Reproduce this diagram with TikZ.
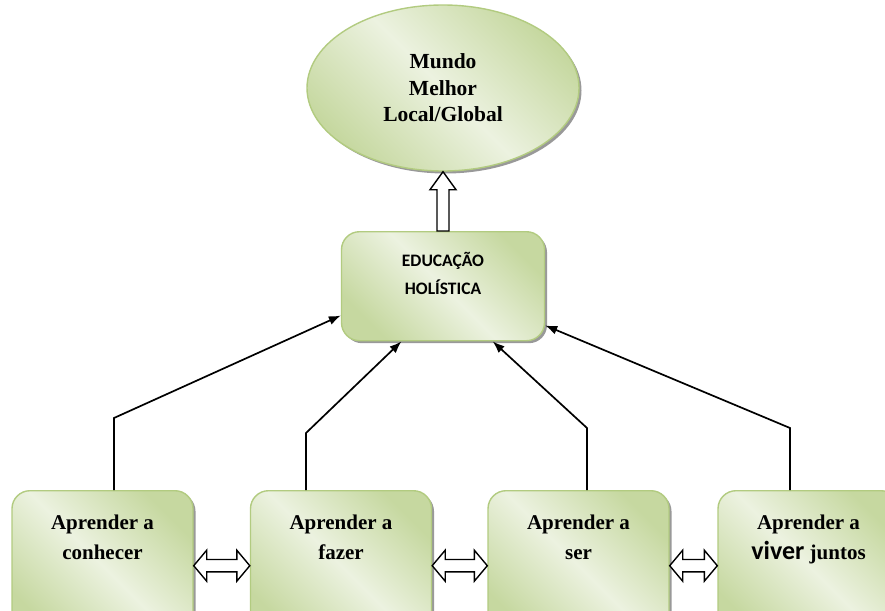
\documentclass[tikz,border=0pt]{standalone}
\usepackage{fontspec}
\setmainfont{Liberation Serif}
\newfontfamily\calibri{Carlito}
\usetikzlibrary{arrows.meta,calc,shapes.geometric,shadows}

\definecolor{leafdark}{RGB}{198,216,160}
\definecolor{leaflight}{RGB}{236,242,224}
\definecolor{leafline}{RGB}{178,203,128}

\newcommand{\twoway}[2]{%
    \draw[hollow] (#1.east) -- ($(#1.east)+(13,-15.5)$) -- ($(#1.east)+(13,-6.2)$)
        -- ($(#2.west)+(-13,-6.2)$) -- ($(#2.west)+(-13,-15.5)$) -- (#2.west)
        -- ($(#2.west)+(-13,15.5)$) -- ($(#2.west)+(-13,6.2)$)
        -- ($(#1.east)+(13,6.2)$) -- ($(#1.east)+(13,15.5)$) -- cycle;}

\begin{document}
\begin{tikzpicture}[x=1pt, y=-1pt,
    leaf/.style={draw=leafline, line width=1.4pt, top color=leafdark, bottom color=leafdark, middle color=leaflight, shading angle=-45,
        drop shadow={shadow xshift=2.5pt, shadow yshift=-2.5pt, fill=black!40, opacity=1}},
    learnbox/.style={leaf, rounded corners=18pt, minimum width=181pt, inner ysep=24pt, text height=45pt, text depth=57pt,
        anchor=north, align=center, font=\fontsize{21}{30}\selectfont\bfseries},
    conn/.style={line width=1.7pt, -{Latex[length=12pt,width=9pt]}},
    hollow/.style={draw=black, line width=1.4pt, fill=white, line join=miter}]
    \useasboundingbox (0,0) rectangle (885,610);
    \clip (0,0) rectangle (885,610);

    \node[leaf, ellipse, minimum width=272pt, minimum height=166pt, inner sep=0pt, align=center,
        font=\fontsize{21.5}{26.5}\selectfont\bfseries] (world) at (443,88) {Mundo\\Melhor\\Local/Global};
    \node[leaf, rounded corners=18pt, minimum width=203pt, inner ysep=23pt, text height=40pt, text depth=23pt, anchor=north,
        align=center, font=\calibri\fontsize{17.5}{28}\selectfont\bfseries] (edu) at (443,231) {EDUCAÇÃO\\HOLÍSTICA};

    \node[learnbox] (conhecer) at (102.5,490) {Aprender a\\conhecer};
    \node[learnbox] (fazer) at (341,490) {Aprender a\\fazer};
    \node[learnbox] (ser) at (578.5,490) {Aprender a\\ser};
    \node[learnbox] (juntos) at (808.5,490) {Aprender a\\{\calibri\fontsize{26}{30}\selectfont viver} juntos};

    \coordinate (bend1) at (114,418);
    \coordinate (bend2) at (306,433);
    \coordinate (bend3) at (587,428);
    \coordinate (bend4) at (790,428);

    \draw[conn] (bend1 |- conhecer.north) -- (bend1) -- (edu.196);
    \draw[conn] (bend2 |- fazer.north) -- (bend2) -- (edu.233);
    \draw[conn] (bend3 |- ser.north) -- (bend3) -- (edu.312);
    \draw[conn] (bend4 |- juntos.north) -- (bend4) -- (edu.339);

    \draw[hollow] ($(edu.north)+(-6,0)$) |- ($(world.south)+(-13,18)$) -- (world.south)
        -- ($(world.south)+(13,18)$) -| ($(edu.north)+(6,0)$) -- cycle;

    \twoway{conhecer}{fazer}
    \twoway{fazer}{ser}
    \twoway{ser}{juntos}

\end{tikzpicture}
\end{document}
